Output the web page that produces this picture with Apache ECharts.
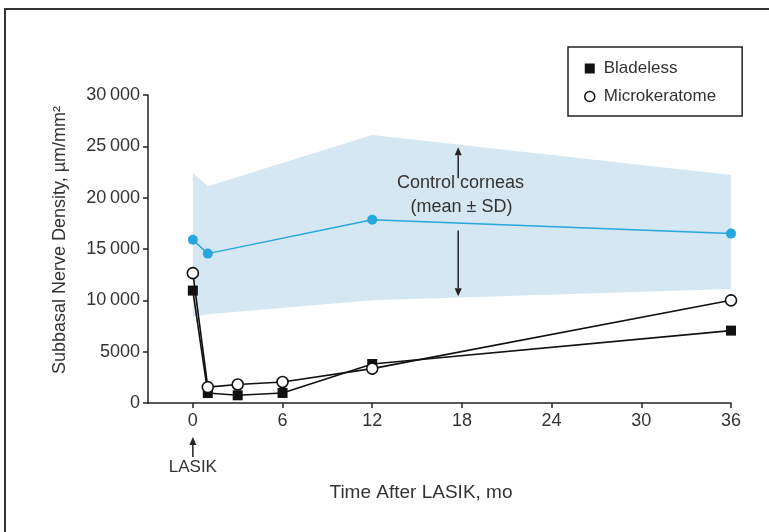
<!DOCTYPE html>
<html><head><meta charset="utf-8">
<script src="https://cdn.jsdelivr.net/npm/echarts@6/dist/echarts.min.js"></script>
<style>html,body{margin:0;padding:0;background:#fff}#c{width:769px;height:532px}</style>
</head><body><div id="c"></div>
<script>
const months = [0, 1, 3, 6, 12, 36];
const bladeless = [10950, 970, 750, 980, 3800, 7050];
const microkeratome = [12650, 1550, 1800, 2050, 3350, 10000];
const controlMonths = [0, 1, 12, 36];
const controlMean = [15900, 14550, 17850, 16500];
const controlUpper = [22400, 21100, 26100, 22200];
const controlLower = [8400, 8650, 10000, 11100];
const xTicks = [0, 6, 12, 18, 24, 30, 36];

const FONT = '"Liberation Sans", Arial, sans-serif';
const TXT = '#333';
const pair = (xs, ys) => xs.map((x, i) => [x, ys[i]]);

const chart = echarts.init(document.getElementById('c'), null, {renderer: 'canvas'});
const option = {
  animation: false,
  backgroundColor: '#fff',
  textStyle: {fontFamily: FONT},
  grid: {left: 148, right: 38, top: 95, bottom: 129, containLabel: false},
  legend: {
    left: 568, top: 47,
    orient: 'vertical',
    padding: [13, 26, 11, 16],
    itemGap: 11, itemWidth: 10, itemHeight: 10,
    borderColor: '#222', borderWidth: 1.5,
    textStyle: {fontFamily: FONT, fontSize: 17, color: TXT, padding: [0, 0, 0, 4]},
    data: [
      {name: 'Bladeless', icon: 'rect', itemStyle: {color: '#111'}},
      {name: 'Microkeratome', icon: 'circle', itemStyle: {color: '#fff', borderColor: '#111', borderWidth: 1.5}}
    ]
  },
  xAxis: {
    type: 'value', min: -3, max: 36,
    name: 'Time After LASIK, mo', nameLocation: 'middle', nameGap: 80,
    nameTextStyle: {fontFamily: FONT, fontSize: 19, color: TXT, padding: [0, 37, 0, 0]},
    axisLine: {show: true, onZero: false, lineStyle: {color: '#222', width: 1.5}},
    axisTick: {show: true, customValues: xTicks, length: 5, lineStyle: {color: '#222', width: 1.5}},
    axisLabel: {customValues: xTicks, fontFamily: FONT, fontSize: 18, color: TXT, margin: 9},
    splitLine: {show: false}
  },
  yAxis: {
    type: 'value', min: 0, max: 30000, interval: 5000,
    name: 'Subbasal Nerve Density, µm/mm²', nameLocation: 'middle', nameGap: 79,
    nameTextStyle: {fontFamily: FONT, fontSize: 18, color: TXT, padding: [0, 0, 0, 18]},
    axisLine: {show: true, onZero: false, lineStyle: {color: '#222', width: 1.5}},
    axisTick: {show: true, length: 5, lineStyle: {color: '#222', width: 1.5}},
    axisLabel: {fontFamily: FONT, fontSize: 18, color: TXT, margin: 8,
      formatter: v => v >= 10000 ? String(v).slice(0, -3) + '\u2009' + String(v).slice(-3) : String(v)},
    splitLine: {show: false}
  },
  series: [
    {type: 'custom', name: 'band', silent: true, z: 1,
     data: controlMonths.map((m, i) => [m, controlUpper[i], controlLower[i]]),
     encode: {x: 0, y: [1, 2]},
     renderItem: (params, api) => {
       if (params.dataIndex !== 0) return null;
       const up = controlMonths.map((m, i) => api.coord([m, controlUpper[i]]));
       const lo = controlMonths.map((m, i) => api.coord([m, controlLower[i]])).reverse();
       return {type: 'polygon', shape: {points: up.concat(lo)}, style: {fill: '#d5e7f2'}};
     }},
    {type: 'line', name: 'Control', data: pair(controlMonths, controlMean),
     symbol: 'circle', symbolSize: 10, itemStyle: {color: '#27a6e0'},
     lineStyle: {color: '#27a6e0', width: 1.5}, z: 3},
    {type: 'line', name: 'Bladeless', data: pair(months, bladeless),
     symbol: 'rect', symbolSize: 10, itemStyle: {color: '#111'},
     lineStyle: {color: '#111', width: 1.6}, z: 4},
    {type: 'line', name: 'Microkeratome', data: pair(months, microkeratome),
     symbol: 'circle', symbolSize: 11,
     itemStyle: {color: '#fff', borderColor: '#111', borderWidth: 1.6},
     lineStyle: {color: '#111', width: 1.6}, z: 5}
  ]
};
chart.setOption(option);

function arrow(p1, p2) {
  const dx = p2[0] - p1[0], dy = p2[1] - p1[1];
  const L = Math.hypot(dx, dy), ux = dx / L, uy = dy / L;
  const hl = 8, hw = 3.5;
  const bx = p2[0] - ux * hl, by = p2[1] - uy * hl;
  return [
    {type: 'line', shape: {x1: p1[0], y1: p1[1], x2: bx, y2: by}, style: {stroke: '#222', lineWidth: 1.5}, z: 10},
    {type: 'polygon', shape: {points: [[p2[0], p2[1]], [bx - uy * hw, by + ux * hw], [bx + uy * hw, by - ux * hw]]},
     style: {fill: '#222'}, z: 10}
  ];
}
const P = (x, y) => chart.convertToPixel({gridIndex: 0}, [x, y]);
const aX = 17.75;
const up1 = P(aX, 21900), up2 = P(aX, 24900);
const dn1 = P(aX, 16800), dn2 = P(aX, 10400);
const lz = P(0, 0);
const tx = P(17.9, 0)[0];
const elems = [
  {type: 'rect', shape: {x: 5, y: 9, width: 800, height: 600}, style: {fill: 'none', stroke: '#333', lineWidth: 2}, z: 0},
  ...arrow(up1, up2),
  ...arrow(dn1, dn2),
  ...arrow([lz[0], lz[1] + 54], [lz[0], lz[1] + 34]),
  {type: 'text', x: lz[0], y: lz[1] + 64, style: {text: 'LASIK', font: '17px ' + FONT, fill: TXT, textAlign: 'center', textVerticalAlign: 'middle'}, z: 10},
  {type: 'text', x: tx, y: 183, style: {text: 'Control corneas', font: '18px ' + FONT, fill: TXT, textAlign: 'center', textVerticalAlign: 'middle'}, z: 11},
  {type: 'text', x: tx + 1, y: 207, style: {text: '(mean \u00b1 SD)', font: '18px ' + FONT, fill: TXT, textAlign: 'center', textVerticalAlign: 'middle'}, z: 11}
];
chart.setOption({graphic: {elements: elems}});
</script>
</body></html>
